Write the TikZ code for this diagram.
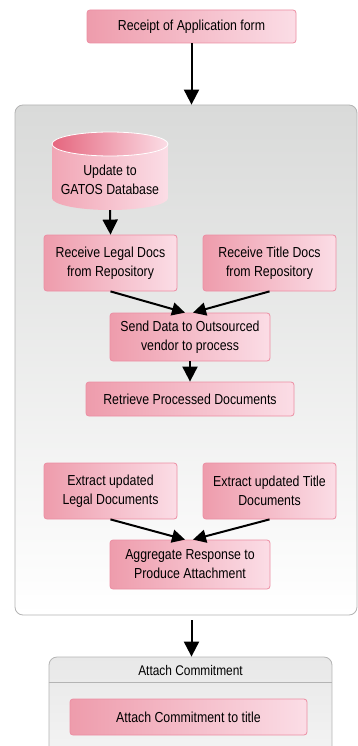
\documentclass[tikz,border=0pt]{standalone}
\usepackage{fontspec}
\setmainfont{Liberation Sans}[FakeStretch=0.85]
\usetikzlibrary{shapes.geometric,arrows.meta,positioning}
\definecolor{pinkdark}{HTML}{EE9CAC}
\definecolor{pinklight}{HTML}{FBDDE6}
\definecolor{pinkedge}{HTML}{EC8EA3}
\definecolor{dbtop}{HTML}{E5667E}
\definecolor{dbbody}{HTML}{F1A6B5}
\definecolor{groupgray}{HTML}{D9DAD9}
\definecolor{groupedge}{HTML}{B4B4B4}
\tikzset
{
    procnode/.style = {rectangle, rounded corners=3pt, draw=pinkedge, line width=0.8pt, left color=pinkdark, right color=pinklight, align=center, font=\fontsize{14.5}{19}\selectfont, inner sep=2pt},
    groupbox/.style = {rectangle, rounded corners=8pt, draw=groupedge, line width=0.8pt, top color=groupgray, middle color=white, bottom color=white},
    flow/.style     = {-{Triangle[length=15pt,width=15pt]}, line width=2pt},
    merge/.style    = {-{Triangle[length=13pt,width=13pt]}, line width=2pt}
}

\begin{document}
\begin{tikzpicture}[x=1pt, y=-1pt]
    \fill [white] (0,0) rectangle (358,746);
    \useasboundingbox (0,0) rectangle (358,746);

    \node [procnode, minimum width=209pt, minimum height=33pt] (receipt) at (191.5,26.5) {Receipt of Application form};

    % processing group
    \node [groupbox, minimum width=342pt, minimum height=510pt] (grp) at (186,360) {};

    % database cylinder
    \shade [left color=dbbody, right color=pinklight] (52,144) -- (52,198) arc[start angle=180, end angle=0, x radius=58, y radius=12] -- (168,144) -- cycle;
    \shade [left color=dbtop, right color=pinklight, draw=white, line width=0.8pt] (110,144) ellipse [x radius=58, y radius=12];
    \node [align=center, font=\fontsize{14.5}{19}\selectfont, minimum height=60pt] (db) at (110,180) {Update to\\GATOS Database};

    \node [procnode, minimum width=133pt, minimum height=56pt] (legal) at (110.5,263) {Receive Legal Docs\\from Repository};
    \node [procnode, minimum width=133pt, minimum height=56pt] (title) at (269.5,263) {Receive Title Docs\\from Repository};
    \node [procnode, minimum width=160pt, minimum height=48pt] (send) at (190,337) {Send Data to Outsourced\\vendor to process};
    \node [procnode, minimum width=208pt, minimum height=34pt] (retrieve) at (190,399) {Retrieve Processed Documents};

    \node [procnode, minimum width=133pt, minimum height=56pt] (exlegal) at (110.5,491) {Extract updated\\Legal Documents};
    \node [procnode, minimum width=133pt, minimum height=56pt] (extitle) at (269.5,491) {Extract updated Title\\Documents};
    \node [procnode, minimum width=160pt, minimum height=49pt] (aggr) at (190,564.5) {Aggregate Response to\\Produce Attachment};

    % commitment group
    \node [groupbox, top color=gray!18, middle color=white, bottom color=gray!8, minimum width=283pt, minimum height=110pt] (commit) at (190.5,712) {};
    \draw [groupedge, line width=0.8pt] ([yshift=-26pt]commit.north west) -- ([yshift=-26pt]commit.north east);
    \node [font=\fontsize{14}{17}\selectfont] (commithead) at (190.5,670) {Attach Commitment};
    \node [procnode, minimum width=237pt, minimum height=36pt] (attach) at (188.5,717) {Attach Commitment to title};

    \draw [flow] (receipt.south) -- (receipt.south |- grp.north);
    \draw [flow] (db.south) -- (legal.north);
    \draw [merge] (legal.south) -- ([xshift=-5pt]send.north);
    \draw [merge] (title.south) -- ([xshift=3pt]send.north);
    \draw [flow] (send) -- (retrieve);
    \draw [merge] (exlegal.south) -- ([xshift=-5pt]aggr.north);
    \draw [merge] (extitle.south) -- ([xshift=3pt]aggr.north);
    \draw [flow] ([yshift=-5pt]grp.south -| receipt) -- (commit.north -| receipt);
\end{tikzpicture}
\end{document}
